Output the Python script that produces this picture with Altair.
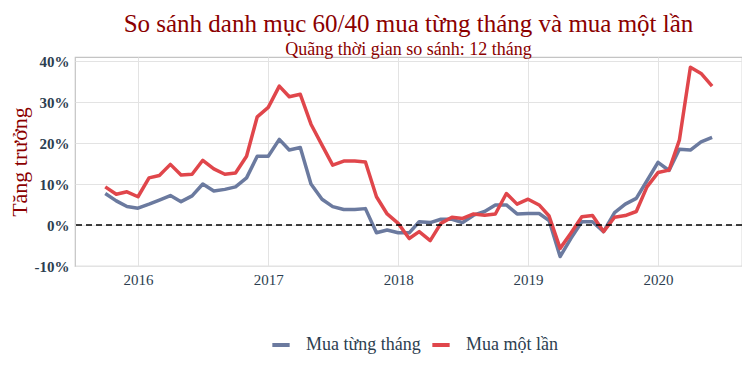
import altair as alt
import pandas as pd

months = pd.date_range("2015-10-01", "2020-06-01", freq="MS").strftime("%Y-%m-%d").tolist()

monthly = [7.7, 5.9, 4.5, 4.1, 5.1, 6.1, 7.2, 5.7, 7.1, 10.0, 8.3, 8.7, 9.3, 11.5, 16.8, 16.8,
           20.9, 18.3, 18.9, 10.0, 6.3, 4.5, 3.8, 3.8, 4.0, -1.9, -1.2, -1.9, -1.9, 0.8, 0.6,
           1.4, 1.4, 0.6, 2.4, 3.3, 4.9, 4.9, 2.7, 2.8, 2.8, 1.1, -7.7, -3.3, 0.8, 0.8, -1.6,
           3.0, 5.1, 6.5, 10.8, 15.3, 13.3, 18.5, 18.3, 20.3, 21.4]

lump = [9.3, 7.5, 8.1, 6.9, 11.5, 12.1, 14.8, 12.2, 12.4, 15.8, 13.7, 12.4, 12.7, 16.8, 26.4,
        28.7, 33.9, 31.3, 31.9, 24.6, 19.5, 14.6, 15.6, 15.6, 15.4, 6.9, 2.7, 0.4, -3.3, -1.6,
        -3.8, 0.4, 1.9, 1.6, 2.7, 2.4, 2.7, 7.7, 5.1, 6.3, 4.9, 2.2, -5.7, -2.0, 2.0, 2.3,
        -1.6, 1.9, 2.3, 3.3, 9.3, 12.8, 13.4, 20.7, 38.5, 37.0, 33.9]

series_names = ["Mua từng tháng", "Mua một lần"]
series_colors = ["#6b7a9f", "#e0464b"]

df = pd.DataFrame({
    "date": months * 2,
    "value": monthly + lump,
    "series": [series_names[0]] * len(months) + [series_names[1]] * len(months),
})

SERIF = "Liberation Serif"
TXT = "#2c3e50"
DARKRED = "#8b0000"

base = alt.Chart(df)

lines = base.mark_line(strokeWidth=3.5, strokeJoin="round").encode(
    x=alt.X("date:T",
            scale=alt.Scale(domain=["2015-07-08", "2020-08-24"], nice=False),
            axis=alt.Axis(title=None, format="%Y", tickCount={"interval": "year", "step": 1},
                          labelFont=SERIF, labelFontSize=15, labelColor=TXT,
                          labelPadding=6, ticks=False, domain=False,
                          gridColor="#e3e3e3", gridWidth=1)),
    y=alt.Y("value:Q",
            scale=alt.Scale(domain=[-10, 41], nice=False, zero=False),
            axis=alt.Axis(title="Tăng trưởng", titleFont=SERIF, titleFontSize=22,
                          titleFontWeight="normal", titleColor=DARKRED, titlePadding=3,
                          values=list(range(-10, 45, 5)),
                          labelExpr="datum.value % 10 == 0 ? datum.value + '%' : ''",
                          labelFont=SERIF, labelFontSize=15, labelFontWeight="bold",
                          labelColor=TXT, labelPadding=6, ticks=False, domain=False,
                          gridColor="#e3e3e3", gridWidth=1)),
    color=alt.Color("series:N",
                    scale=alt.Scale(domain=series_names, range=series_colors),
                    sort=series_names,
                    legend=alt.Legend(title=None, orient="none", direction="horizontal",
                                      legendX=195, legendY=277,
                                      symbolType="stroke", symbolStrokeWidth=4,
                                      symbolSize=300, labelFont=SERIF, labelFontSize=18,
                                      labelColor=TXT, labelOffset=14, columnPadding=3)),
)

zero = alt.Chart(pd.DataFrame({"y": [0]})).mark_rule(
    color="black", strokeDash=[6, 4], strokeWidth=1.5
).encode(y="y:Q")

chart = alt.layer(lines, zero).properties(
    width=667,
    height=209,
    title=alt.TitleParams(
        text="So sánh danh mục 60/40 mua từng tháng và mua một lần",
        subtitle="Quãng thời gian so sánh: 12 tháng",
        font=SERIF, fontSize=25, fontWeight="normal", color=DARKRED,
        subtitleFont=SERIF, subtitleFontSize=18, subtitleColor=DARKRED,
        subtitlePadding=4, anchor="middle", offset=-5,
    ),
    autosize=alt.AutoSizeParams(type="none"),
    padding={"left": 67, "top": 49, "right": 0, "bottom": 100},
).configure(font=SERIF).configure_view(stroke="#c4c4c4", strokeWidth=1.2)

chart.save("out.html", embed_options={"renderer": "svg", "actions": False})
